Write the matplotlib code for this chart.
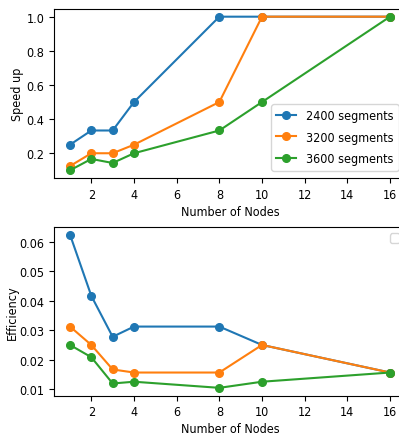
import matplotlib
matplotlib.use('Agg')
import matplotlib.pyplot as plt

nodes = [1, 2, 3, 4, 8, 10, 16]
labels = ['2400 segments', '3200 segments', '3600 segments']

speedup_2400 = [0.25, 0.3333, 0.3333, 0.5, 1.0, 1.0, 1.0]
speedup_3200 = [0.125, 0.2, 0.2, 0.25, 0.5, 1.0, 1.0]
speedup_3600 = [0.1, 0.1667, 0.1429, 0.2, 0.3333, 0.5, 1.0]

eff_2400 = [0.0625, 0.04167, 0.02778, 0.03125, 0.03125, 0.025, 0.015625]
eff_3200 = [0.03125, 0.025, 0.01667, 0.015625, 0.015625, 0.025, 0.015625]
eff_3600 = [0.025, 0.02083, 0.0119, 0.0125, 0.01042, 0.0125, 0.015625]

plt.rcParams['font.family'] = ['DejaVu Sans']
plt.rcParams['font.stretch'] = 'condensed'
plt.rcParams['font.size'] = 9

fig = plt.figure(figsize=(3.99, 4.35), dpi=100)
ax1 = fig.add_axes([54 / 399, 1 - 179 / 435, 352 / 399, 169 / 435])
ax2 = fig.add_axes([54 / 399, 1 - 396.5 / 435, 352 / 399, 168.5 / 435])

for s, lab in zip([speedup_2400, speedup_3200, speedup_3600], labels):
    ax1.plot(nodes, s, marker='o', markersize=5.5, label=lab)
ax1.set_xlabel('Number of Nodes', labelpad=3)
ax1.set_ylabel('Speed up', labelpad=2)
ax1.legend(loc='lower right', labelspacing=0.7, handlelength=1.6, borderaxespad=0.6)

for e in [eff_2400, eff_3200, eff_3600]:
    ax2.plot(nodes, e, marker='o', markersize=5.5)
ax2.set_xlabel('Number of Nodes', labelpad=3)
ax2.set_ylabel('Efficiency', labelpad=0)
ax2.legend()

fig.savefig('out.png', dpi=100)
